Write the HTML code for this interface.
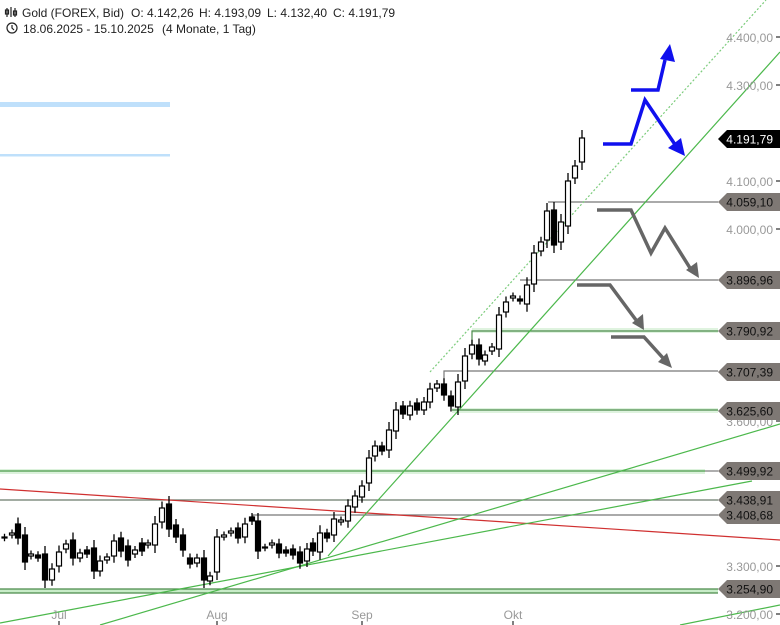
<!DOCTYPE html>
<html><head><meta charset="utf-8"><style>
body{margin:0;background:#fff;width:780px;height:625px;overflow:hidden;font-family:"Liberation Sans",sans-serif}
svg{position:absolute;left:0;top:0}
.pre{white-space:pre}
</style></head><body>
<svg id="s" width="780" height="625" xmlns="http://www.w3.org/2000/svg" font-family="Liberation Sans, sans-serif">
<rect x="0" y="102" width="170" height="5" fill="#bfe0fb"/>
<rect x="0" y="154" width="170" height="2.5" fill="#bfe0fb"/>
<rect x="0" y="469" width="705" height="5" fill="#dcf2dc"/>
<rect x="0" y="589" width="718" height="4" fill="#c8ecc8"/>
<rect x="472" y="328" width="246" height="5" fill="#dff3df"/>
<rect x="452" y="408" width="266" height="5" fill="#dff3df"/>
<g stroke-width="1.2" fill="none">
<line x1="548" y1="202" x2="718" y2="202" stroke="#777"/>
<line x1="520" y1="280" x2="718" y2="280" stroke="#777"/>
<polyline points="472,345 472,331 718,331" stroke="#4a8a4a"/>
<polyline points="444,384 444,371 718,371" stroke="#777"/>
<line x1="452" y1="410" x2="718" y2="410" stroke="#4a8a4a"/>
<line x1="0" y1="471" x2="705" y2="471" stroke="#4a9a4a"/><line x1="705" y1="471" x2="718" y2="471" stroke="#777"/>
<line x1="0" y1="500" x2="718" y2="500" stroke="#6a7a6a"/>
<polyline points="253,521 253,515 718,515" stroke="#777"/>
<line x1="0" y1="589" x2="718" y2="589" stroke="#4a8a4a"/>
<line x1="0" y1="593" x2="718" y2="593" stroke="#4a8a4a"/>
<line x1="0" y1="489" x2="780" y2="540" stroke="#d03030"/>
<line x1="328" y1="556" x2="780" y2="52" stroke="#4cb84c"/>
<line x1="430" y1="372" x2="766" y2="0" stroke="#7ccc7c" stroke-dasharray="2,2"/>
<line x1="0" y1="623" x2="752" y2="481" stroke="#4cb84c"/>
<line x1="100" y1="625" x2="780" y2="424" stroke="#4cb84c"/>
<line x1="680" y1="625" x2="780" y2="605" stroke="#4cb84c"/>
</g>
<g id="c"></g>
<g fill="none" stroke-width="3.5" stroke-linejoin="miter">
<polyline points="603,144 631,144 645,100 676,146" stroke="#1010ee"/>
<polyline points="631,90 658,90 665,60" stroke="#1010ee"/>
<polyline points="597,210 631,210 651,253 665,228 690,268" stroke="#666"/>
<polyline points="577,285 610,285 636,320" stroke="#666"/>
<polyline points="611,337 644,337 663,358" stroke="#666"/>
</g>
<polygon points="685,156 668,148 681,138" fill="#1010ee"/>
<polygon points="670,44 660,59 675,62" fill="#1010ee"/>
<polygon points="699,278 686,270 697,262" fill="#666"/>
<polygon points="644,330 632,323 643,314" fill="#666"/>
<polygon points="672,368 658,362 667,353" fill="#666"/>
<g font-size="12" fill="#999" text-anchor="end">
<text x="773" y="42">4.400,00</text><text x="773" y="90">4.300,00</text>
<text x="773" y="186">4.100,00</text><text x="773" y="234">4.000,00</text>
<text x="773" y="426">3.600,00</text><text x="773" y="571">3.300,00</text><text x="773" y="619">3.200,00</text>
</g>
<g stroke="#000"><line x1="776" y1="37" x2="780" y2="37"/><line x1="776" y1="85" x2="780" y2="85"/><line x1="776" y1="181" x2="780" y2="181"/><line x1="776" y1="229" x2="780" y2="229"/><line x1="776" y1="421" x2="780" y2="421"/><line x1="776" y1="566" x2="780" y2="566"/><line x1="776" y1="614" x2="780" y2="614"/>
<line x1="59" y1="621" x2="59" y2="625"/><line x1="217" y1="621" x2="217" y2="625"/><line x1="362" y1="621" x2="362" y2="625"/><line x1="513" y1="621" x2="513" y2="625"/></g>
<g font-size="12" fill="#999" text-anchor="middle"><text x="59" y="619">Jul</text><text x="217" y="619">Aug</text><text x="362" y="619">Sep</text><text x="513" y="619">Okt</text></g>
<g id="tags" font-size="12" text-anchor="end"></g>
<g font-size="12" fill="#222">
<text x="22" y="17">Gold (FOREX, Bid)</text>
<text x="131" y="17">O: 4.142,26</text>
<text x="199" y="17">H: 4.193,09</text>
<text x="267" y="17">L: 4.132,40</text>
<text x="333" y="17">C: 4.191,79</text>
<text x="23" y="33">18.06.2025 - 15.10.2025</text>
<text x="162" y="33">(4 Monate, 1 Tag)</text>
</g>
<g stroke="#222" fill="none" stroke-width="1.2"><line x1="7" y1="8" x2="7" y2="17"/><line x1="11" y1="7" x2="11" y2="17"/><line x1="15" y1="8" x2="15" y2="17"/><rect x="5.5" y="10" width="3" height="4"/><rect x="13.5" y="11" width="3" height="4"/>
<circle cx="12" cy="28" r="5"/><polyline points="12,25 12,28 14,30"/></g>
</svg>
<script>
var C=[[4.5,537,538,0],[12,533,535,0],[18,524,538,1],[25,535,562,1],[31,554,556,0],[38,555,558,1],[45,554,580,1],[52,569,580,0],[59,552,566,0],[66,544,549,0],[73,540,558,1],[80,553,558,0],[87,550,554,1],[94,548,571,1],[100,561,571,0],[107,557,560,0],[114,541,556,0],[121,538,551,1],[128,546,560,1],[135,550,554,0],[142,543,551,1],[148,543,545,0],[155,524,545,0],[162,508,522,0],[169,504,529,1],[176,525,537,1],[183,535,550,1],[190,558,564,1],[197,558,563,0],[204,558,580,1],[210,576,581,0],[217,537,572,0],[224,535,537,0],[231,531,533,0],[238,528,538,1],[245,524,537,0],[252,517,521,1],[258,521,551,1],[265,547,548,0],[272,543,545,0],[279,544,553,1],[286,550,553,1],[293,549,555,1],[300,552,563,1],[307,549,561,0],[313,543,551,1],[320,533,552,0],[327,533,538,1],[334,519,535,0],[341,520,522,0],[348,506,521,0],[355,496,507,0],[362,486,497,0],[369,458,483,0],[375,446,456,0],[382,446,451,1],[389,430,450,0],[396,410,431,0],[403,406,414,1],[410,406,415,0],[417,403,410,1],[424,402,410,0],[430,389,402,0],[437,384,388,0],[444,384,395,1],[451,396,406,1],[458,382,407,0],[465,356,381,0],[472,345,354,0],[479,345,359,1],[485,355,361,0],[492,347,351,0],[499,315,349,0],[506,302,312,0],[513,296,298,0],[520,299,301,1],[527,285,304,0],[534,253,284,0],[541,242,251,0],[547,211,240,0],[554,210,245,1],[561,222,242,0],[568,181,226,0],[575,166,178,0],[582,138,162,0]];
var h='';C.forEach(function(c,i){var w=(c[2]-c[1]);var e=Math.max(3,Math.min(8,w*0.25+3));var hi=c[1]-e,lo=c[2]+e;
h+='<line x1="'+c[0]+'" y1="'+hi+'" x2="'+c[0]+'" y2="'+lo+'" stroke="#000" stroke-width="1.3"/>';
h+='<rect x="'+(c[0]-2.5)+'" y="'+c[1]+'" width="5" height="'+Math.max(1,w)+'" fill="'+(c[3]?'#000':'#fff')+'" stroke="#000" stroke-width="1.2"/>';});
document.getElementById('c').innerHTML=h;
var T=[[139,'4.191,79','#000','#fff'],[202,'4.059,10','#7e7874','#111'],[280,'3.896,96','#7e7874','#111'],[331,'3.790,92','#7e7874','#111'],[372,'3.707,39','#7e7874','#111'],[411,'3.625,60','#7e7874','#111'],[471,'3.499,92','#7e7874','#111'],[500,'3.438,91','#7e7874','#111'],[515,'3.408,68','#7e7874','#111'],[589,'3.254,90','#7e7874','#111']];
var t='';T.forEach(function(a){var y=a[0];t+='<polygon points="718,'+y+' 727,'+(y-9)+' 780,'+(y-9)+' 780,'+(y+9)+' 727,'+(y+9)+'" fill="'+a[2]+'"/><text x="773" y="'+(y+4.5)+'" fill="'+a[3]+'">'+a[1]+'</text>';});
document.getElementById('tags').innerHTML=t;
</script>
</body></html>
